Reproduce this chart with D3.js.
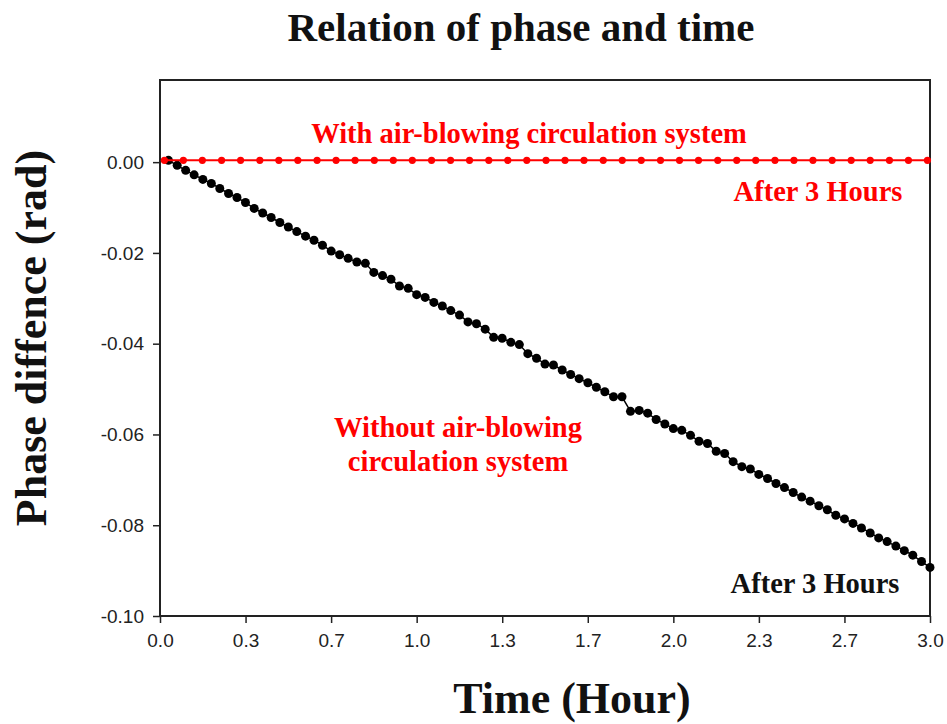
<!DOCTYPE html>
<html>
    <head>
        <meta charset="utf-8">
        <title>Relation of phase and time</title>
        <script src="https://d3js.org/d3.v7.min.js"></script>
    </head>
    <style>
        body { margin: 0; background: #fff; }
        .serif { font-family: "Times New Roman", "Liberation Serif", serif; font-weight: bold; }
    </style>
    <body>
        <div class="graph"></div>
        <script>
            // time in hours, with the air-blowing circulation system (red)
            const timeWith = [
                0.017, 0.091, 0.165, 0.240, 0.314, 0.389, 0.463, 0.537, 0.612, 0.686,
                0.760, 0.835, 0.909, 0.983, 1.058, 1.132, 1.206, 1.281, 1.355, 1.429,
                1.504, 1.578, 1.652, 1.727, 1.801, 1.875, 1.950, 2.024, 2.098, 2.173,
                2.247, 2.321, 2.396, 2.470, 2.544, 2.619, 2.693, 2.767, 2.842, 2.916, 2.990
            ];
            const phaseWith = [
                0.0004, 0.0004, 0.0004, 0.0004, 0.0004, 0.0004, 0.0004, 0.0004, 0.0004, 0.0004,
                0.0004, 0.0004, 0.0004, 0.0004, 0.0004, 0.0004, 0.0004, 0.0004, 0.0004, 0.0004,
                0.0004, 0.0004, 0.0004, 0.0004, 0.0004, 0.0004, 0.0004, 0.0004, 0.0004, 0.0004,
                0.0004, 0.0004, 0.0004, 0.0004, 0.0004, 0.0004, 0.0004, 0.0004, 0.0004, 0.0004, 0.0004
            ];

            // time in hours, without the air-blowing circulation system (black)
            const timeWithout = [
                0.033, 0.067, 0.100, 0.133, 0.167, 0.200, 0.233, 0.267, 0.300, 0.333,
                0.367, 0.400, 0.433, 0.467, 0.500, 0.533, 0.567, 0.600, 0.633, 0.667,
                0.700, 0.733, 0.767, 0.800, 0.833, 0.867, 0.900, 0.933, 0.967, 1.000,
                1.033, 1.067, 1.100, 1.133, 1.167, 1.200, 1.233, 1.267, 1.300, 1.333,
                1.367, 1.400, 1.433, 1.467, 1.500, 1.533, 1.567, 1.600, 1.633, 1.667,
                1.700, 1.733, 1.767, 1.800, 1.833, 1.867, 1.900, 1.933, 1.967, 2.000,
                2.033, 2.067, 2.100, 2.133, 2.167, 2.200, 2.233, 2.267, 2.300, 2.333,
                2.367, 2.400, 2.433, 2.467, 2.500, 2.533, 2.567, 2.600, 2.633, 2.667,
                2.700, 2.733, 2.767, 2.800, 2.833, 2.867, 2.900, 2.933, 2.967, 3.000
            ];
            const phaseWithout = [
                0.0004, -0.0007, -0.0018, -0.0028, -0.0038, -0.0047, -0.0058, -0.0069, -0.0078, -0.0089,
                -0.0102, -0.0112, -0.0122, -0.0133, -0.0143, -0.0153, -0.0163, -0.0172, -0.0183, -0.0196,
                -0.0204, -0.0212, -0.0220, -0.0223, -0.0243, -0.0250, -0.0258, -0.0273, -0.0278, -0.0292,
                -0.0298, -0.0309, -0.0317, -0.0327, -0.0337, -0.0352, -0.0356, -0.0368, -0.0386, -0.0388,
                -0.0397, -0.0402, -0.0422, -0.0432, -0.0445, -0.0447, -0.0458, -0.0468, -0.0477, -0.0486,
                -0.0496, -0.0506, -0.0517, -0.0517, -0.0549, -0.0547, -0.0553, -0.0567, -0.0577, -0.0587,
                -0.0591, -0.0602, -0.0615, -0.0620, -0.0637, -0.0642, -0.0660, -0.0671, -0.0676, -0.0688,
                -0.0697, -0.0708, -0.0717, -0.0728, -0.0738, -0.0747, -0.0757, -0.0766, -0.0778, -0.0786,
                -0.0796, -0.0806, -0.0817, -0.0828, -0.0836, -0.0846, -0.0856, -0.0866, -0.0880, -0.0893
            ];

            const xTicks = [0, 1/3, 2/3, 1, 4/3, 5/3, 2, 7/3, 8/3, 3];
            const yTicks = [-0.10, -0.08, -0.06, -0.04, -0.02, 0.00];

            let width = 947;
            let height = 724;
            const plotLeft = 160, plotRight = 930, plotTop = 80, plotBottom = 616;

            const x = d3.scaleLinear()
                .domain([0, 3])
                .range([plotLeft, plotRight]);

            const y = d3.scaleLinear()
                .domain([-0.10, 0.0181])
                .range([plotBottom, plotTop]);

            let chart = d3.select(".graph")
                .append("svg")
                .attr("width", width)
                .attr("height", height);

            // frame
            chart.append('rect')
                .attr('x', plotLeft)
                .attr('y', plotTop)
                .attr('width', plotRight - plotLeft)
                .attr('height', plotBottom - plotTop)
                .attr('fill', 'none')
                .attr('stroke', '#222')
                .attr('stroke-width', 2);

            // plain hyphen for the minus sign, like the original
            const fmt = f => d => d3.format(f)(d).replace('\u2212', '-');

            const xAxis = d3.axisBottom(x)
                .tickValues(xTicks)
                .tickFormat(fmt('.1f'))
                .tickSizeInner(7)
                .tickSizeOuter(0)
                .tickPadding(11);

            const yAxis = d3.axisLeft(y)
                .tickValues(yTicks)
                .tickFormat(fmt('.2f'))
                .tickSizeInner(7)
                .tickSizeOuter(0)
                .tickPadding(9);

            const styleAxis = g => {
                g.select('.domain').remove();
                g.attr('font-family', 'Arial, "Liberation Sans", sans-serif')
                    .attr('font-size', 19);
                g.selectAll('.tick line').attr('stroke', '#222').attr('stroke-width', 1.5);
                g.selectAll('.tick text').attr('fill', '#222');
            };

            chart.append('g')
                .attr('class', 'x-axis')
                .attr('transform', `translate(0, ${plotBottom})`)
                .call(xAxis)
                .call(styleAxis);

            chart.append('g')
                .attr('class', 'y-axis')
                .attr('transform', `translate(${plotLeft}, 0)`)
                .call(yAxis)
                .call(styleAxis);

            const withData = timeWith.map((t, i) => ({ t: t, v: phaseWith[i] }));
            const withoutData = timeWithout.map((t, i) => ({ t: t, v: phaseWithout[i] }));

            const line = d3.line()
                .x(d => x(d.t))
                .y(d => y(d.v));

            // black series
            chart.append('path')
                .datum(withoutData)
                .attr('d', line)
                .attr('fill', 'none')
                .attr('stroke', '#000')
                .attr('stroke-width', 1.5);

            chart.selectAll('circle.without')
                .data(withoutData)
                .enter()
                .append('circle')
                .attr('class', 'without')
                .attr('cx', d => x(d.t))
                .attr('cy', d => y(d.v))
                .attr('r', 4.5)
                .attr('fill', '#000');

            // red series
            chart.append('path')
                .datum(withData)
                .attr('d', line)
                .attr('fill', 'none')
                .attr('stroke', '#ff0000')
                .attr('stroke-width', 2);

            chart.selectAll('circle.with')
                .data(withData)
                .enter()
                .append('circle')
                .attr('class', 'with')
                .attr('cx', d => x(d.t))
                .attr('cy', d => y(d.v))
                .attr('r', 3.6)
                .attr('fill', '#ff0000');

            // titles
            chart.append('text')
                .attr('class', 'serif')
                .attr('x', 521)
                .attr('y', 41)
                .attr('text-anchor', 'middle')
                .style('font-size', '41px')
                .attr('fill', '#111')
                .text('Relation of phase and time');

            chart.append('text')
                .attr('class', 'serif')
                .attr('x', 572)
                .attr('y', 713)
                .attr('text-anchor', 'middle')
                .style('font-size', '44px')
                .attr('fill', '#111')
                .text('Time (Hour)');

            chart.append('text')
                .attr('class', 'serif')
                .attr('transform', 'translate(46, 338) rotate(-90)')
                .attr('text-anchor', 'middle')
                .style('font-size', '44px')
                .attr('fill', '#111')
                .text('Phase diffence (rad)');

            // annotations
            const notes = [
                { text: 'With air-blowing circulation system', x: 529, y: 143, color: '#ff0000' },
                { text: 'After 3 Hours', x: 818, y: 201, color: '#ff0000' },
                { text: 'Without air-blowing', x: 458, y: 437, color: '#ff0000' },
                { text: 'circulation system', x: 458, y: 471, color: '#ff0000' },
                { text: 'After 3 Hours', x: 815, y: 593, color: '#111' }
            ];

            chart.selectAll('text.note')
                .data(notes)
                .enter()
                .append('text')
                .attr('class', 'note serif')
                .attr('x', d => d.x)
                .attr('y', d => d.y)
                .attr('text-anchor', 'middle')
                .style('font-size', '28.5px')
                .attr('fill', d => d.color)
                .text(d => d.text);
        </script>
    </body>
</html>
